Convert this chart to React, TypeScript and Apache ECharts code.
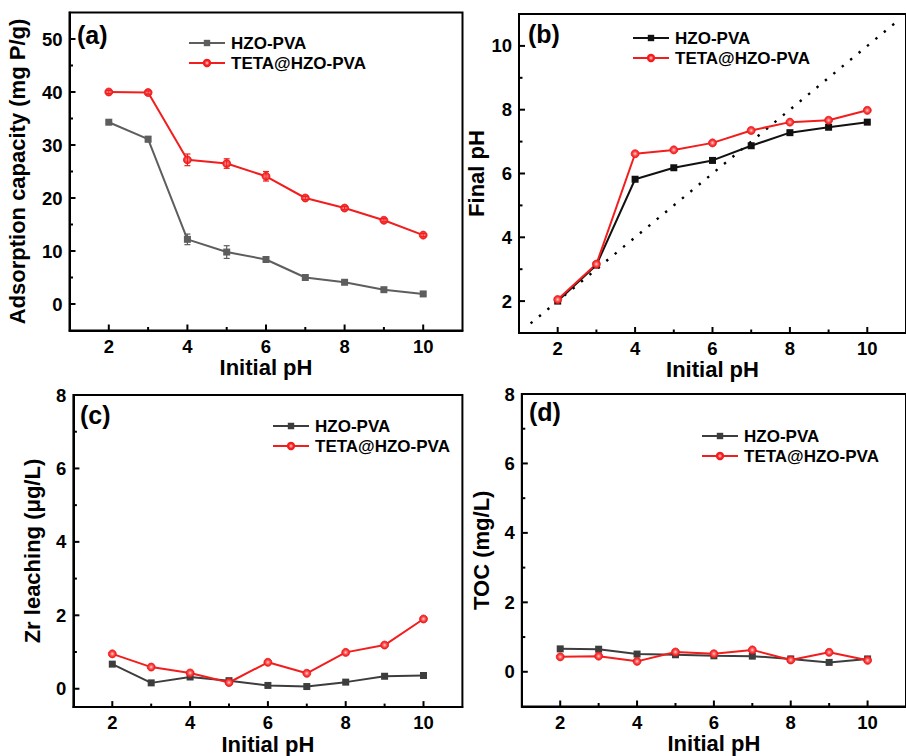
import React, { useEffect, useRef } from 'react';
import * as echarts from 'echarts';

const pH = [2, 3, 4, 5, 6, 7, 8, 9, 10];
const capHZO = [34.3, 31.1, 12.2, 9.8, 8.4, 5.0, 4.1, 2.7, 1.9];
const capHZOErr = [0.3, 0.5, 1.0, 1.2, 0.5, 0.3, 0.3, 0.3, 0.3];
const capTETA = [40.0, 39.9, 27.2, 26.5, 24.1, 20.0, 18.1, 15.8, 13.0];
const capTETAErr = [0.3, 0.3, 1.1, 0.9, 0.9, 0.3, 0.3, 0.3, 0.3];
const finalHZO = [2.0, 3.13, 5.82, 6.18, 6.41, 6.87, 7.28, 7.45, 7.61];
const finalTETA = [2.05, 3.16, 6.62, 6.74, 6.96, 7.35, 7.61, 7.67, 7.98];
const zrHZO = [0.67, 0.16, 0.32, 0.22, 0.09, 0.06, 0.18, 0.34, 0.36];
const zrTETA = [0.95, 0.59, 0.43, 0.17, 0.72, 0.42, 0.99, 1.19, 1.9];
const tocHZO = [0.66, 0.65, 0.51, 0.49, 0.46, 0.45, 0.37, 0.27, 0.37];
const tocTETA = [0.43, 0.45, 0.3, 0.57, 0.52, 0.63, 0.34, 0.56, 0.33];
const identityLine = [1.3, 10.75];

const xTicks = [2, 4, 6, 8, 10];
const xMinor = [3, 5, 7, 9];
const capTicks = [0, 10, 20, 30, 40, 50];
const capMinor = [5, 15, 25, 35, 45];
const finalTicks = [2, 4, 6, 8, 10];
const finalMinor = [3, 5, 7, 9];
const lowTicks = [0, 2, 4, 6, 8];
const lowMinor = [1, 3, 5, 7];

const SERIES_NAMES = ['HZO-PVA', 'TETA@HZO-PVA'];
const FONT = "Arial, 'Liberation Sans', Helvetica, sans-serif";
const RED = '#f21d1d';

const zip = (xs: number[], ys: number[]) => xs.map((x, i) => [x, ys[i]]);

const redBall = {
  type: 'radial',
  x: 0.5,
  y: 0.5,
  r: 0.5,
  colorStops: [
    { offset: 0, color: '#ffd6d6' },
    { offset: 0.45, color: '#ff5a5a' },
    { offset: 1, color: '#e81010' },
  ],
};

export default function App() {
  const ref = useRef<HTMLDivElement>(null);

  useEffect(() => {
    if (!ref.current) return;
    const chart = echarts.init(ref.current, undefined, { renderer: 'svg' });

    const panels = [
      {
        key: 'a', grid: { left: 69.5, top: 12.5, width: 393, height: 318 },
        y: [-5, 55], yTicks: capTicks, yMinor: capMinor, yName: 'Adsorption capacity (mg P/g)', yGap: 41,
        hzo: capHZO, teta: capTETA, hzoColor: '#5e5e5e',
        legend: { left: 188, top: 34 }, label: { text: '(a)', left: 77, top: 22 },
      },
      {
        key: 'b', grid: { left: 519, top: 14, width: 395, height: 319 },
        y: [1, 11], yTicks: finalTicks, yMinor: finalMinor, yName: 'Final pH', yGap: 27,
        hzo: finalHZO, teta: finalTETA, hzoColor: '#111111',
        legend: { left: 632, top: 29 }, label: { text: '(b)', left: 528, top: 21 },
      },
      {
        key: 'c', grid: { left: 73.4, top: 395, width: 389, height: 313.5 },
        y: [-0.5, 8], yTicks: lowTicks, yMinor: lowMinor, yName: 'Zr leaching (μg/L)', yGap: 30,
        hzo: zrHZO, teta: zrTETA, hzoColor: '#3d3d3d',
        legend: { left: 272, top: 417 }, label: { text: '(c)', left: 80, top: 402 },
      },
      {
        key: 'd', grid: { left: 521.8, top: 394, width: 389, height: 312.5 },
        y: [-1, 8], yTicks: lowTicks, yMinor: lowMinor, yName: 'TOC (mg/L)', yGap: 29,
        hzo: tocHZO, teta: tocTETA, hzoColor: '#3d3d3d',
        legend: { left: 701, top: 427 }, label: { text: '(d)', left: 529, top: 399 },
      },
    ];

    const grids: any[] = [];
    const xAxes: any[] = [];
    const yAxes: any[] = [];
    const legends: any[] = [];
    const series: any[] = [];
    const graphics: any[] = [];

    const mainAxis = (gi: number, min: number, max: number, ticks: number[], pos: string, name: string, gap: number) => ({
      type: 'value', gridIndex: gi, min, max, position: pos,
      name, nameLocation: 'middle', nameGap: gap,
      nameTextStyle: { fontFamily: FONT, fontWeight: 'bold', fontSize: 22, color: '#000' },
      axisLine: { show: true, onZero: false, lineStyle: { color: '#000', width: 2 } },
      axisTick: { show: false },
      axisLabel: { show: true, customValues: ticks, fontFamily: FONT, fontWeight: 'bold', fontSize: 18.5, color: '#000', margin: pos === 'left' ? 7 : 6 },
      splitLine: { show: false },
    });

    panels.forEach((p, i) => {
      grids.push({ ...p.grid, show: true, borderColor: '#000', borderWidth: 2, backgroundColor: 'transparent' });
      xAxes[i] = mainAxis(i, 1, 11, xTicks, 'bottom', 'Initial pH', 25);
      yAxes[i] = mainAxis(i, p.y[0], p.y[1], p.yTicks, 'left', p.yName, p.yGap);

      // inward tick marks: [x, y, length, dim (0 = x axis, 1 = y axis)]
      const xMin = 1;
      const yMin = p.y[0];
      const tickData = [
        ...xTicks.map((v) => [v, yMin, 6, 0]),
        ...xMinor.map((v) => [v, yMin, 3.5, 0]),
        ...p.yTicks.map((v) => [xMin, v, 6, 1]),
        ...p.yMinor.map((v) => [xMin, v, 3.5, 1]),
      ];
      series.push({
        type: 'custom', xAxisIndex: i, yAxisIndex: i, z: 6, silent: true,
        data: tickData, encode: { x: 0, y: 1 },
        renderItem: (params: any, api: any) => {
          const c = api.coord([api.value(0), api.value(1)]);
          const len = api.value(2);
          const dim = api.value(3);
          const shape = dim === 0
            ? { x1: c[0], y1: c[1], x2: c[0], y2: c[1] - len }
            : { x1: c[0], y1: c[1], x2: c[0] + len, y2: c[1] };
          return { type: 'line', shape, style: { stroke: '#000', lineWidth: 2 } };
        },
      });

      const nHZO = p.key + '|' + SERIES_NAMES[0];
      const nTETA = p.key + '|' + SERIES_NAMES[1];

      if (p.key === 'b') {
        series.push({
          type: 'line', xAxisIndex: i, yAxisIndex: i, data: zip(identityLine, identityLine),
          symbol: 'none', silent: true, z: 1,
          lineStyle: { color: '#000', width: 2.4, type: [2.4, 8.5] },
        });
      }
      if (p.key === 'a') {
        const errRender = (color: string) => (params: any, api: any) => {
          const x = api.value(0), y = api.value(1), e = api.value(2);
          const t = api.coord([x, y + e]);
          const b = api.coord([x, y - e]);
          const w = 3;
          const st = { stroke: color, lineWidth: 1.2 };
          return {
            type: 'group',
            children: [
              { type: 'line', shape: { x1: t[0], y1: t[1], x2: b[0], y2: b[1] }, style: st },
              { type: 'line', shape: { x1: t[0] - w, y1: t[1], x2: t[0] + w, y2: t[1] }, style: st },
              { type: 'line', shape: { x1: b[0] - w, y1: b[1], x2: b[0] + w, y2: b[1] }, style: st },
            ],
          };
        };
        series.push({
          type: 'custom', xAxisIndex: i, yAxisIndex: i, z: 3, silent: true,
          data: pH.map((x, k) => [x, capHZO[k], capHZOErr[k]]), encode: { x: 0, y: 1 },
          renderItem: errRender(p.hzoColor),
        });
        series.push({
          type: 'custom', xAxisIndex: i, yAxisIndex: i, z: 3, silent: true,
          data: pH.map((x, k) => [x, capTETA[k], capTETAErr[k]]), encode: { x: 0, y: 1 },
          renderItem: errRender(RED),
        });
      }

      series.push({
        name: nHZO, type: 'line', xAxisIndex: i, yAxisIndex: i, data: zip(pH, p.hzo), z: 2,
        symbol: 'rect', symbolSize: 7,
        lineStyle: { color: p.hzoColor, width: 2 },
        itemStyle: { color: p.hzoColor },
      });
      series.push({
        name: nTETA, type: 'line', xAxisIndex: i, yAxisIndex: i, data: zip(pH, p.teta), z: 2,
        symbol: 'circle', symbolSize: 8,
        lineStyle: { color: RED, width: 2 },
        itemStyle: { color: redBall, borderColor: RED, borderWidth: 0.8 },
      });

      legends.push({
        data: [nHZO, nTETA], orient: 'vertical', left: p.legend.left, top: p.legend.top,
        padding: 0, itemGap: 2, itemWidth: 36, itemHeight: 8, selectedMode: false,
        formatter: (name: string) => name.split('|')[1],
        textStyle: { fontFamily: FONT, fontWeight: 'bold', fontSize: 17, color: '#000', lineHeight: 18, padding: [0, 0, 0, 1] },
      });

      graphics.push({
        type: 'text', left: p.label.left, top: p.label.top,
        style: { text: p.label.text, font: `bold 25px ${FONT}`, fill: '#000' },
      });
    });

    chart.setOption({
      animation: false,
      backgroundColor: '#fff',
      grid: grids,
      xAxis: xAxes,
      yAxis: yAxes,
      legend: legends,
      series,
      graphic: graphics,
    });

    return () => chart.dispose();
  }, []);

  return (
    <div
      ref={ref}
      style={{ position: 'absolute', left: 0, top: 0, width: 906, height: 756, background: '#fff' }}
    />
  );
}
